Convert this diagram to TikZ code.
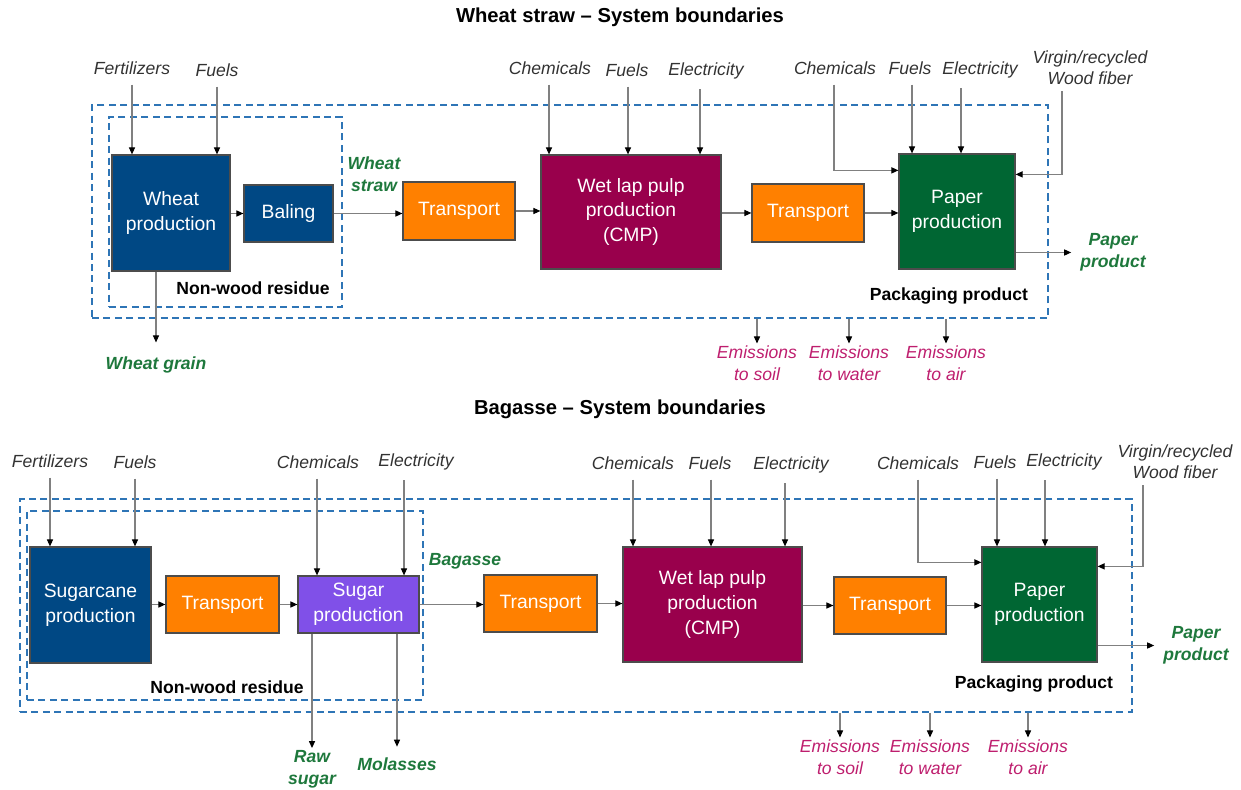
\documentclass[tikz,border=0pt]{standalone}
\usepackage{fontspec}
\setmainfont{Liberation Sans}
\usetikzlibrary{arrows.meta,calc}

\definecolor{wheatblue}{RGB}{0,72,132}
\definecolor{haulorange}{RGB}{255,128,0}
\definecolor{pulpred}{RGB}{153,0,76}
\definecolor{papergreen}{RGB}{0,102,51}
\definecolor{sugarviolet}{RGB}{128,80,232}
\definecolor{outgreen}{RGB}{30,120,60}
\definecolor{emitpink}{RGB}{190,30,110}
\definecolor{inputgray}{RGB}{50,50,50}
\definecolor{limitblue}{RGB}{46,117,182}

\begin{document}
\begin{tikzpicture}[x=0.02cm,y=-0.02cm,
  proc/.style 2 args={draw=black!70,line width=0.7pt,text=white,align=center,inner sep=0pt,
    minimum width=#1*0.02cm,minimum height=#2*0.02cm,font=\fontsize{11}{14}\selectfont},
  limit/.style 2 args={draw=limitblue,line width=1.1pt,dash pattern=on 4pt off 2.5pt,inner sep=0pt,
    minimum width=#1*0.02cm,minimum height=#2*0.02cm},
  inp/.style={text=inputgray,font=\fontsize{10}{12}\selectfont\itshape,align=center,inner sep=1pt},
  outlab/.style={text=outgreen,font=\fontsize{10}{12.5}\selectfont\bfseries\itshape,align=center,inner sep=1pt},
  emit/.style={text=emitpink,font=\fontsize{10}{12.5}\selectfont\itshape,align=center,inner sep=1pt},
  tag/.style={font=\fontsize{10}{12}\selectfont\bfseries,inner sep=1pt},
  heading/.style={font=\fontsize{11.5}{14}\selectfont\bfseries},
  flow/.style={draw=black!50,line width=0.6pt,-{Triangle[length=4pt,width=3.5pt,color=black]}}]
\useasboundingbox (0,0) rectangle (1241,790);

% wheat straw chain
\node[heading] (titleA) at (620,17) {Wheat straw – System boundaries};
\node[limit={956}{213}] (sysA) at (570,211.5) {};
\node[limit={233}{190}] (resA) at (225.5,212) {};
\node[proc={118}{116},fill=wheatblue] (wheat) at (171,213) {Wheat\\production};
\node[proc={89}{57},fill=wheatblue] (baling) at (288.5,213.5) {Baling};
\node[proc={112}{58},fill=haulorange] (trA) at (459,211) {Transport};
\node[proc={180}{114},fill=pulpred] (pulpA) at (631,212) {Wet lap pulp\\production\\(CMP)};
\node[proc={112}{58},fill=haulorange] (trB) at (808,213) {Transport};
\node[proc={116}{115},fill=papergreen] (paperA) at (957,211.5) {Paper\\production};

\node[inp] (fertA) at (132,68) {Fertilizers};
\node[inp] (fuelA) at (217,70) {Fuels};
\node[inp] (chemB) at (550,68) {Chemicals};
\node[inp] (fuelB) at (627,70) {Fuels};
\node[inp] (elecB) at (706,71) {Electricity};
\node[inp] (chemC) at (835,68) {Chemicals};
\node[inp] (fuelC) at (910,68) {Fuels};
\node[inp] (elecC) at (980,70) {Electricity};
\node[inp] (woodA) at (1090,68) {Virgin/recycled\\Wood fiber};

\node[outlab] (strawA) at (374,174) {Wheat\\straw};
\node[outlab] (grainA) at (156,365) {Wheat grain};
\node[outlab] (prodA) at (1113,252.5) {Paper\\product};
\node[tag] (nwrA) at (253,288) {Non-wood residue};
\node[tag] (packA) at (949,296) {Packaging product};
\node[emit] (soilA) at (757,363) {Emissions\\to soil};
\node[emit] (waterA) at (849,363) {Emissions\\to water};
\node[emit] (airA) at (946,363) {Emissions\\to air};

\draw[flow] (wheat.east |- baling.west) -- (baling.west);
\draw[flow] (baling.east) -- (baling.east -| trA.west);
\draw[flow] (trA.east) -- (trA.east -| pulpA.west);
\draw[flow] (pulpA.east |- trB.west) -- (trB.west);
\draw[flow] (trB.east) -- (trB.east -| paperA.west);
\draw[flow] ($(chemC.south)+(-1,8)$) |- ($(paperA.north west)+(0,17)$);
\draw[flow] ($(woodA.south)+(-28,4)$) |- ($(paperA.north east)+(0,21)$);
\draw[flow] (grainA.north |- wheat.south) -- ([yshift=7pt]grainA.north);
\draw[flow] (prodA.west -| paperA.east) -- ([xshift=-4pt]prodA.west);
\draw[flow] (soilA.north |- sysA.south) -- (soilA.north);
\draw[flow] (waterA.north |- sysA.south) -- (waterA.north);
\draw[flow] (airA.north |- sysA.south) -- (airA.north);

% bagasse chain
\node[heading] (titleB) at (620,409) {Bagasse – System boundaries};
\node[limit={1112}{213}] (sysB) at (576,605.5) {};
\node[limit={396}{189}] (resB) at (225,605.5) {};
\node[proc={121}{116},fill=wheatblue] (cane) at (90.5,605) {Sugarcane\\production};
\node[proc={113}{57},fill=haulorange] (trC) at (222.5,604.5) {Transport};
\node[proc={121}{57},fill=sugarviolet] (sugar) at (358.5,604.5) {Sugar\\production};
\node[proc={113}{57},fill=haulorange] (trD) at (540.5,603.5) {Transport};
\node[proc={179}{115},fill=pulpred] (pulpB) at (712.5,604.5) {Wet lap pulp\\production\\(CMP)};
\node[proc={112}{57},fill=haulorange] (trE) at (890,605.5) {Transport};
\node[proc={115}{115},fill=papergreen] (paperB) at (1039.5,604.5) {Paper\\production};

\node[inp] (fertD) at (50,461) {Fertilizers};
\node[inp] (fuelD) at (135,462) {Fuels};
\node[inp] (chemE) at (318,462) {Chemicals};
\node[inp] (elecE) at (416,462) {Electricity};
\node[inp] (chemF) at (633,463) {Chemicals};
\node[inp] (fuelF) at (710,463) {Fuels};
\node[inp] (elecF) at (791,465) {Electricity};
\node[inp] (chemG) at (918,463) {Chemicals};
\node[inp] (fuelG) at (995,462) {Fuels};
\node[inp] (elecG) at (1064,462) {Electricity};
\node[inp] (woodB) at (1175,462) {Virgin/recycled\\Wood fiber};

\node[outlab] (bagB) at (465,561) {Bagasse};
\node[outlab] (rawB) at (312,769) {Raw\\sugar};
\node[outlab] (molB) at (397,764) {Molasses};
\node[outlab] (prodB) at (1196,645.5) {Paper\\product};
\node[tag] (nwrB) at (227,687) {Non-wood residue};
\node[tag] (packB) at (1034,684) {Packaging product};
\node[emit] (soilB) at (840,757) {Emissions\\to soil};
\node[emit] (waterB) at (930,757) {Emissions\\to water};
\node[emit] (airB) at (1028,757) {Emissions\\to air};

\draw[flow] (cane.east |- trC.west) -- (trC.west);
\draw[flow] (trC.east) -- (trC.east -| sugar.west);
\draw[flow] (sugar.east) -- (sugar.east -| trD.west);
\draw[flow] (trD.east) -- (trD.east -| pulpB.west);
\draw[flow] (pulpB.east |- trE.west) -- (trE.west);
\draw[flow] (trE.east) -- (trE.east -| paperB.west);
\draw[flow] ($(chemG.south)+(0,8)$) |- ($(paperB.north west)+(0,16)$);
\draw[flow] ($(woodB.south)+(-32,4)$) |- ($(paperB.north east)+(0,20)$);
\draw[flow] (rawB.north |- sugar.south) -- (rawB.north);
\draw[flow] (molB.north |- sugar.south) -- ([yshift=5pt]molB.north);
\draw[flow] (prodB.west -| paperB.east) -- ([xshift=-4pt]prodB.west);
\draw[flow] (soilB.north |- sysB.south) -- (soilB.north);
\draw[flow] (waterB.north |- sysB.south) -- (waterB.north);
\draw[flow] (airB.north |- sysB.south) -- (airB.north);

% inputs falling straight onto the boxes
\foreach \src/\dx/\dst in {fertA/0/wheat,fuelA/0/wheat,chemB/-1/pulpA,fuelB/1/pulpA,
    elecB/-6/pulpA,fuelC/2/paperA,elecC/-19/paperA,fertD/0/cane,fuelD/0/cane,
    chemE/-1/sugar,elecE/-12/sugar,chemF/0/pulpB,fuelF/1/pulpB,elecF/-6/pulpB,
    fuelG/2/paperB,elecG/-19/paperB}
  {\coordinate (feed) at ($(\src.south)+(\dx,8)$);
   \draw[flow] (feed) -- (feed |- \dst.north);}
\end{tikzpicture}
\end{document}
